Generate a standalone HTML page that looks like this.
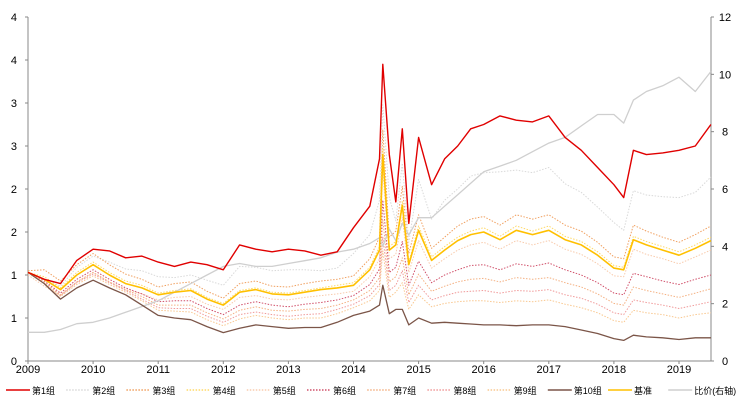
<!DOCTYPE html>
<html><head><meta charset="utf-8"><style>
body{margin:0;background:#fff;font-family:"Liberation Sans","Noto Sans CJK SC",sans-serif}
svg text{font-family:"Liberation Sans","Noto Sans CJK SC",sans-serif}
</style></head><body>
<svg id="chart" width="741" height="402" xmlns="http://www.w3.org/2000/svg">
<g id="axes"></g>
<g id="series"></g>
<g id="legend"></g>
</svg>
<script>
const dates=[2009,2009.25,2009.5,2009.75,2010,2010.25,2010.5,2010.75,2011,2011.25,2011.5,2011.75,2012,2012.25,2012.5,2012.75,2013,2013.25,2013.5,2013.75,2014,2014.25,2014.4,2014.45,2014.55,2014.65,2014.75,2014.85,2015,2015.2,2015.4,2015.6,2015.8,2016,2016.25,2016.5,2016.75,2017,2017.25,2017.5,2017.75,2018,2018.15,2018.3,2018.5,2018.75,2019,2019.25,2019.49];
const g1=[1.03,0.95,0.9,1.17,1.3,1.28,1.2,1.22,1.15,1.1,1.15,1.12,1.06,1.35,1.3,1.27,1.3,1.28,1.23,1.27,1.55,1.8,2.35,3.45,2.4,1.85,2.7,1.6,2.6,2.05,2.35,2.5,2.7,2.75,2.85,2.8,2.78,2.85,2.6,2.45,2.25,2.05,1.9,2.45,2.4,2.42,2.45,2.5,2.75];
const g2=[1.03,.95,.87,1.09,1.22,1.15,1.07,1.05,.98,.97,1.0,.94,.88,1.1,1.09,1.05,1.06,1.06,1.05,1.08,1.25,1.47,1.87,2.98,1.9,1.63,2.3,1.38,2.11,1.65,1.87,2.0,2.15,2.19,2.2,2.22,2.19,2.25,2.06,1.96,1.79,1.61,1.52,1.98,1.93,1.91,1.9,1.96,2.14];
const g3=[1.05,1.06,.93,1.12,1.25,1.12,1.01,.95,.86,.9,.92,.81,.73,.9,.93,.87,.86,.9,.93,.95,.99,1.19,1.44,2.69,1.44,1.51,2.03,1.25,1.7,1.31,1.44,1.57,1.65,1.68,1.58,1.7,1.65,1.7,1.58,1.51,1.38,1.21,1.19,1.58,1.51,1.44,1.38,1.47,1.57];
const g4=[1.03,.98,.85,1.03,1.15,1.03,.93,.88,.79,.82,.84,.74,.67,.82,.85,.8,.79,.82,.85,.88,.91,1.09,1.33,2.47,1.33,1.39,1.86,1.15,1.57,1.21,1.33,1.44,1.51,1.55,1.45,1.57,1.51,1.57,1.45,1.39,1.27,1.11,1.09,1.45,1.39,1.33,1.27,1.35,1.44];
const g5=[1.0,.87,.76,.92,1.03,.92,.83,.78,.71,.74,.75,.66,.6,.74,.76,.72,.71,.74,.76,.78,.81,.98,1.19,2.21,1.19,1.24,1.67,1.03,1.4,1.08,1.19,1.29,1.35,1.38,1.3,1.4,1.35,1.4,1.3,1.24,1.13,.99,.98,1.3,1.24,1.19,1.13,1.21,1.29];
const g6=[1.03,.93,.79,.95,1.06,.95,.85,.78,.69,.7,.7,.61,.54,.65,.69,.65,.63,.66,.68,.71,.76,.89,1.07,1.87,1.03,1.09,1.39,.88,1.16,.91,1.0,1.06,1.11,1.12,1.06,1.13,1.1,1.14,1.06,1.0,.91,.79,.77,1.02,.98,.93,.89,.95,1.0];
const g7=[1.03,.92,.77,.92,1.03,.92,.83,.75,.65,.65,.65,.56,.49,.59,.63,.59,.58,.6,.61,.65,.71,.82,.97,1.64,.92,.98,1.2,.77,1.01,.81,.87,.92,.95,.96,.92,.97,.95,.97,.91,.86,.78,.67,.65,.86,.82,.78,.74,.79,.84];
const g8=[1.03,.92,.76,.91,1.01,.91,.82,.72,.62,.61,.61,.52,.45,.54,.57,.54,.52,.54,.55,.6,.66,.76,.89,1.44,.82,.88,1.05,.68,.88,.71,.76,.8,.81,.82,.79,.82,.81,.83,.77,.73,.66,.56,.54,.71,.68,.65,.61,.65,.69];
const g9=[1.03,.91,.75,.89,.99,.89,.8,.7,.59,.58,.57,.48,.41,.49,.53,.5,.48,.5,.5,.55,.62,.7,.82,1.28,.74,.8,.91,.6,.77,.63,.67,.69,.7,.7,.68,.7,.69,.71,.66,.62,.56,.47,.45,.59,.56,.54,.5,.54,.56];
const g10=[1.03,0.9,0.72,0.85,0.94,0.85,0.77,0.65,0.53,0.5,0.48,0.4,0.33,0.38,0.42,0.4,0.38,0.39,0.39,0.45,0.53,0.58,0.65,0.88,0.55,0.6,0.6,0.42,0.5,0.44,0.45,0.44,0.43,0.42,0.42,0.41,0.42,0.42,0.4,0.36,0.32,0.26,0.24,0.3,0.28,0.27,0.25,0.27,0.27];
const bench=[1.03,0.95,0.83,1.0,1.12,1.0,0.9,0.85,0.77,0.8,0.82,0.72,0.65,0.8,0.83,0.78,0.77,0.8,0.83,0.85,0.88,1.06,1.29,2.4,1.29,1.35,1.81,1.12,1.52,1.17,1.29,1.4,1.47,1.5,1.41,1.52,1.47,1.52,1.41,1.35,1.23,1.08,1.06,1.41,1.35,1.29,1.23,1.31,1.4];
const ratio=[1.0,1.0,1.1,1.3,1.35,1.5,1.7,1.9,2.1,2.4,2.7,3.0,3.3,3.4,3.3,3.3,3.4,3.5,3.6,3.8,3.9,4.1,4.3,4.0,4.6,4.2,4.8,4.4,5.0,5.0,5.4,5.8,6.2,6.6,6.8,7.0,7.3,7.6,7.8,8.2,8.6,8.6,8.3,9.1,9.4,9.6,9.9,9.4,10.1];
const leftTicks=[0,0.5,1,1.5,2,2.5,3,3.5,4];
const leftLabels=["0","1","1","2","2","3","3","4","4"];
const rightTicks=[0,2,4,6,8,10,12];
const years=[2009,2010,2011,2012,2013,2014,2015,2016,2017,2018,2019];
const legendNames=["第1组","第2组","第3组","第4组","第5组","第6组","第7组","第8组","第9组","第10组","基准","比价(右轴)"];

const X0=28,X1=711,Y0=361,Y1=17;
const xs=t=>X0+(t-2009)*65.1;
const yl=v=>Y0-(v/4)*(Y0-Y1);
const yr=v=>Y0-(v/12)*(Y0-Y1);
const NS="http://www.w3.org/2000/svg";
function mk(tag,attrs,parent){const e=document.createElementNS(NS,tag);for(const k in attrs)e.setAttribute(k,attrs[k]);parent.appendChild(e);return e;}
const axes=document.getElementById('axes'),series=document.getElementById('series'),legend=document.getElementById('legend');

let a=mk('line',{x1:X0,y1:Y1,x2:X0,y2:Y0,stroke:'#888','stroke-width':1},axes);

a=mk('line',{x1:X1,y1:Y1,x2:X1,y2:Y0,stroke:'#888','stroke-width':1},axes);

a=mk('line',{x1:X0,y1:Y0,x2:X1,y2:Y0,stroke:'#888','stroke-width':1},axes);

leftTicks.forEach((v,i)=>{const y=yl(v);
 mk('line',{x1:X0-3,y1:y,x2:X0,y2:y,stroke:'#888'},axes);
 const t=mk('text',{x:17,y:y+4,'font-size':11,'text-anchor':'end',fill:'#000'},axes);t.textContent=leftLabels[i];
 });
rightTicks.forEach(v=>{const y=yr(v);
 mk('line',{x1:X1,y1:y,x2:X1+3,y2:y,stroke:'#888'},axes);
 const t=mk('text',{x:725,y:y+4,'font-size':11,'text-anchor':'middle',fill:'#000'},axes);t.textContent=v;
 });
years.forEach(v=>{const x=xs(v);
 mk('line',{x1:x,y1:Y0,x2:x,y2:Y0+3,stroke:'#888'},axes);
 const t=mk('text',{x:x,y:373,'font-size':11,'text-anchor':'middle',fill:'#000'},axes);t.textContent=v;
 });

const defs=[
 {d:g2,c:'#d9d9d9',w:1,dash:'1.5 1.5',ax:yl},
 {d:g3,c:'#f0a060',w:1,dash:'1.5 1.5',ax:yl},
 {d:g4,c:'#ffd966',w:1,dash:'1.5 1.5',ax:yl},
 {d:g5,c:'#f8cbad',w:1,dash:'1.5 1.5',ax:yl},
 {d:g6,c:'#d0506a',w:1,dash:'1.5 1.5',ax:yl},
 {d:g7,c:'#f4b183',w:1,dash:'1.5 1.5',ax:yl},
 {d:g8,c:'#f09a9a',w:1,dash:'1.5 1.5',ax:yl},
 {d:g9,c:'#f9c890',w:1,dash:'1.5 1.5',ax:yl},
 {d:ratio,c:'#cfcfcf',w:1.3,dash:'',ax:yr},
 {d:g10,c:'#7b5548',w:1.3,dash:'',ax:yl},
 {d:bench,c:'#ffc000',w:1.6,dash:'',ax:yl},
 {d:g1,c:'#e00000',w:1.4,dash:'',ax:yl}
];
const names=['group-2-line','group-3-line','group-4-line','group-5-line','group-6-line','group-7-line','group-8-line','group-9-line','ratio-line','group-10-line','benchmark-line','group-1-line'];
defs.forEach((s,i)=>{
 const pts=s.d.map((v,j)=>xs(dates[j]).toFixed(1)+','+s.ax(v).toFixed(1)).join(' ');
 const p=mk('polyline',{points:pts,fill:'none',stroke:s.c,'stroke-width':s.w,'stroke-dasharray':s.dash,'stroke-linejoin':'round'},series);
 
 
});
const legStyle=[['#e00000',''],['#d9d9d9','1.5 1.5'],['#f0a060','1.5 1.5'],['#ffd966','1.5 1.5'],['#f8cbad','1.5 1.5'],['#d0506a','1.5 1.5'],['#f4b183','1.5 1.5'],['#f09a9a','1.5 1.5'],['#f9c890','1.5 1.5'],['#7b5548',''],['#ffc000',''],['#cfcfcf','']];
legendNames.forEach((n,i)=>{
 const x0=6+i*60.2;
 const g=mk('g',{},legend);
 
 
 mk('line',{x1:x0,y1:390,x2:x0+24,y2:390,stroke:legStyle[i][0],'stroke-width':1.5,'stroke-dasharray':legStyle[i][1]},g);
 const t=mk('text',{x:x0+26,y:394,'font-size':9,fill:'#000'},g);t.textContent=n;
});
</script>
</body></html>
